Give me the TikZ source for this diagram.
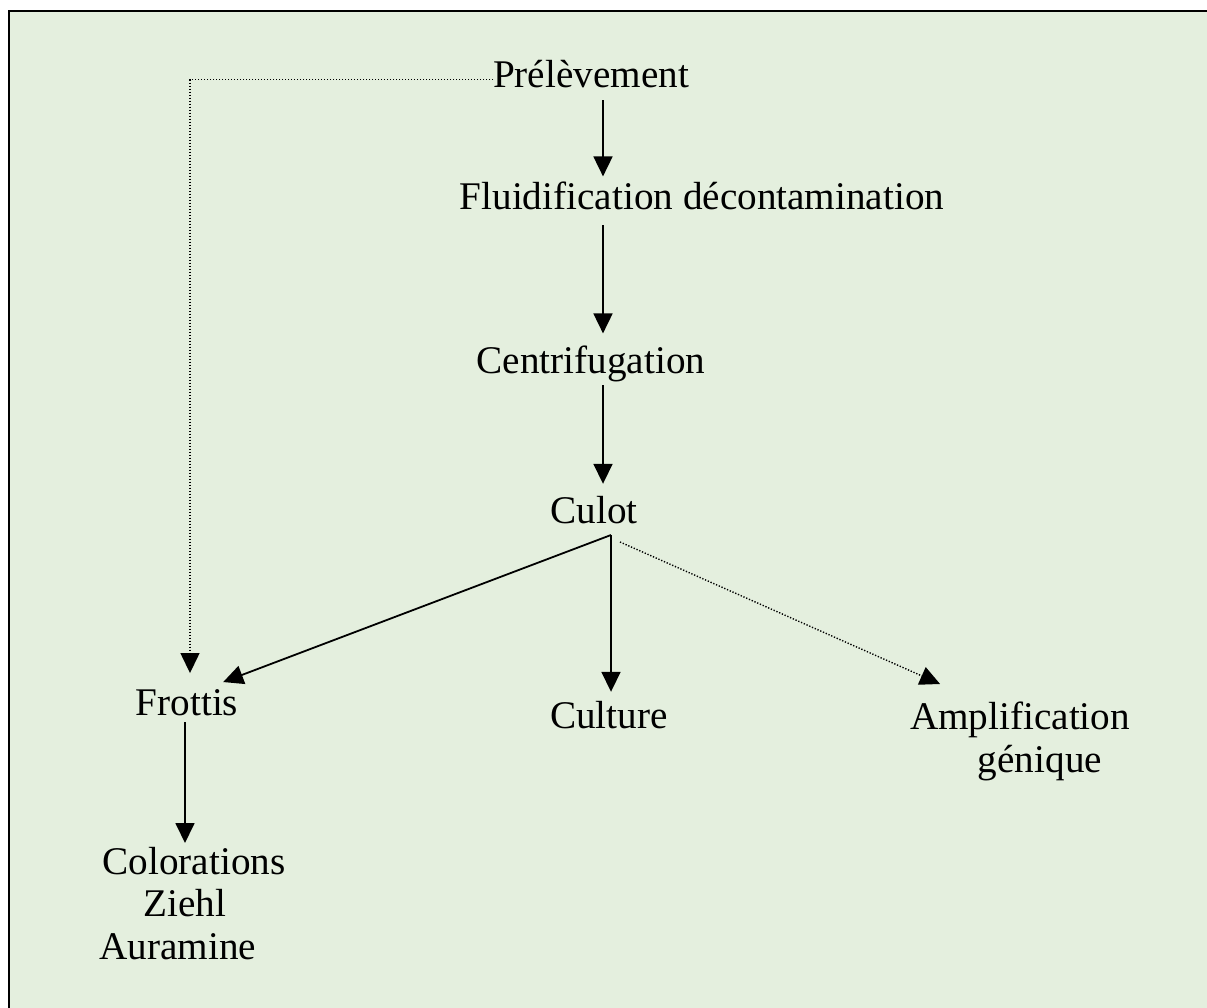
\documentclass[tikz,border=0pt]{standalone}
\usepackage{fontspec}
\setmainfont{Liberation Serif}
\usetikzlibrary{arrows.meta}
\definecolor{panelgreen}{RGB}{228,239,222}
\tikzset{
  lbl/.style={inner sep=0pt, outer sep=0pt, font=\fontsize{39.2}{42.5}\selectfont},
  arr/.style={line width=1.8pt, -{Triangle[length=20pt,width=19pt]}},
  dotarr/.style={line width=1.4pt, dash pattern=on 1.3pt off 1.7pt,
                 -{Triangle[length=20pt,width=19pt]}},
  plain/.style={line width=1.8pt}
}
\begin{document}
\begin{tikzpicture}[x=1pt,y=-1pt]
  \useasboundingbox (0,0) rectangle (1207,1008);
  % framed panel
  \draw[line width=2pt, fill=panelgreen] (9,11) rectangle (1240,1040);

  % reference columns for the connectors
  \coordinate (spine) at (603,0);
  \coordinate (split) at (611,535);

  % steps of the procedure
  \node[lbl, anchor=base] (pre)  at (591,88)  {Prélèvement};
  \node[lbl, anchor=base] (flu)  at (702,210) {Fluidification décontamination};
  \node[lbl, anchor=base] (cen)  at (591,373) {Centrifugation};
  \node[lbl, anchor=base] (cul)  at (594,523) {Culot};
  \node[lbl, anchor=base] (fro)  at (187,715) {Frottis};
  \node[lbl, anchor=base] (cult) at (609,728) {Culture};
  \node[lbl, anchor=north, align=center] (amp) at (1020,702)
        {Amplification\\\hspace*{40pt}génique};
  \node[lbl, anchor=north, align=center] (col) at (185,847)
        {\hspace*{18pt}Colorations\\Ziehl\hspace*{6pt}\\Auramine\hspace*{14pt}};

  % main sequence
  \draw[arr] ([yshift=-12pt]pre.south -| spine) -- ([yshift=6pt]flu.north -| spine);
  \draw[arr] ([yshift=-15pt]flu.south -| spine) -- ([yshift=12pt]cen.north -| spine);
  \draw[arr] ([yshift=-3.6pt]cen.south -| spine) -- ([yshift=12pt]cul.north -| spine);

  % branches from the pellet
  \draw[arr] (split) -- ([xshift=-15pt,yshift=7pt]fro.north east);
  \draw[arr] (split) -- ([yshift=9pt]split |- cult.north);
  \draw[dotarr] ([xshift=9pt,yshift=-7pt]split) -- ([xshift=30pt,yshift=18pt]amp.north west);

  % direct smear from the sample
  \draw[dotarr] ([yshift=-5pt]pre.west) -| ([xshift=3pt,yshift=16pt]fro.north);

  % staining
  \draw[arr] ([yshift=-7pt]fro.south -| col.north) -- ([yshift=4pt]col.north);
\end{tikzpicture}
\end{document}
